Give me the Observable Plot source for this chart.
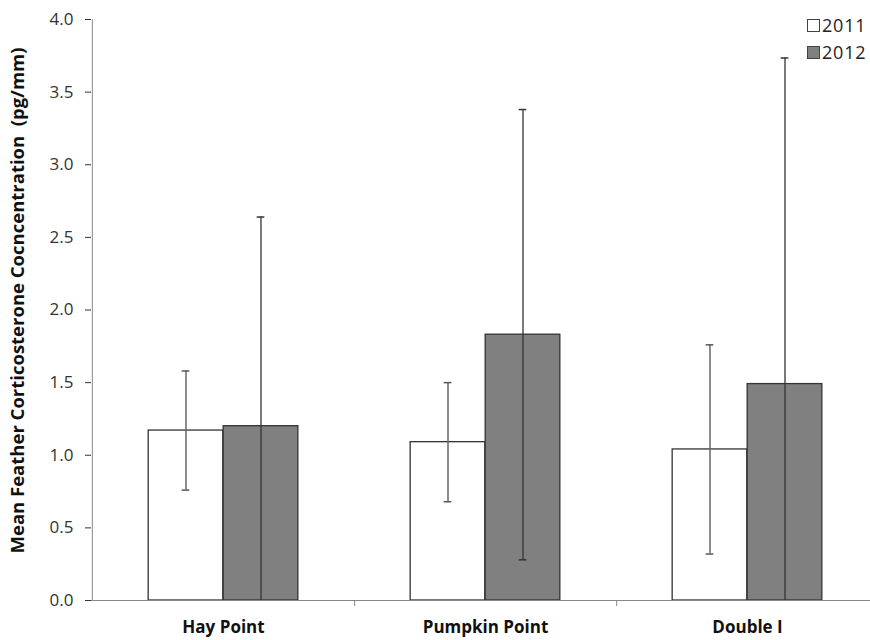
<!DOCTYPE html>
<html><head><meta charset="utf-8">
<script src="https://cdn.jsdelivr.net/npm/d3@7"></script>
<script src="https://cdn.jsdelivr.net/npm/@observablehq/plot@0.6"></script>
<style>
body{margin:0;background:#fff;}
#wrap{position:relative;width:870px;height:640px;overflow:hidden;}
.legend{position:absolute;left:807px;font:18px "Open Sans",sans-serif;letter-spacing:0.8px;color:#222;display:flex;align-items:center;line-height:1;}
.sw{width:13px;height:13px;border:1px solid #444;margin-right:2px;box-sizing:border-box;}
</style></head><body>
<div id="wrap"></div>
<script>
const sites = ["Hay Point", "Pumpkin Point", "Double I"];
const years = ["2011", "2012"];
const mean2011 = [1.17, 1.09, 1.04];
const err2011 = [0.41, 0.41, 0.72];
const mean2012 = [1.20, 1.83, 1.49];
const err2012 = [1.44, 1.55, 2.245];
const yTicks = [0, 0.5, 1, 1.5, 2, 2.5, 3, 3.5, 4];
const yTitle = "Mean Feather Corticosterone Cocncentration  (pg/mm)";

const X0 = 91, X1 = 878, BW = (X1 - X0) / sites.length, BAR = 75, HALF = BAR / 2, CAP = 4;
const mk = (m, e) => sites.map((s, i) => ({site: s, mean: m[i], lo: Math.max(0, m[i] - e[i]), hi: m[i] + e[i], low: m[i] - e[i]}));
const r2011 = mk(mean2011, err2011);
const r2012 = mk(mean2012, err2012);

const chart = Plot.plot({
  width: 870, height: 640,
  marginLeft: 91, marginTop: 19, marginBottom: 40, marginRight: 0,
  style: {fontFamily: "'Open Sans', sans-serif", fontSize: "17px", color: "#333", background: "#fff"},
  x: {domain: sites, range: [X0, X1], padding: 0, axis: null},
  y: {domain: [0, 4], ticks: yTicks, tickFormat: d3.format(".1f"), tickSize: 6, tickPadding: 12, label: null},
  marks: [
    Plot.barY(r2011, {x: "site", y: "mean", fill: "#fff", stroke: "#333", strokeWidth: 1.3, insetLeft: BW / 2 - BAR, insetRight: BW / 2}),
    Plot.barY(r2012, {x: "site", y: "mean", fill: "#808080", stroke: "#333", strokeWidth: 1.3, insetLeft: BW / 2, insetRight: BW / 2 - BAR}),
    Plot.ruleX(r2011, {x: "site", y1: "lo", y2: "hi", dx: -HALF, stroke: "#666", strokeWidth: 1.5}),
    Plot.ruleX(r2012, {x: "site", y1: "lo", y2: "hi", dx: HALF, stroke: "#333", strokeWidth: 1.3}),
    Plot.tickY(r2011, {x: "site", y: "hi", dx: -HALF, insetLeft: BW / 2 - CAP, insetRight: BW / 2 - CAP, stroke: "#555", strokeWidth: 1.5}),
    Plot.tickY(r2011.filter(d => d.low > 0), {x: "site", y: "lo", dx: -HALF, insetLeft: BW / 2 - CAP, insetRight: BW / 2 - CAP, stroke: "#555", strokeWidth: 1.5}),
    Plot.tickY(r2012, {x: "site", y: "hi", dx: HALF, insetLeft: BW / 2 - CAP, insetRight: BW / 2 - CAP, stroke: "#333", strokeWidth: 1.5}),
    Plot.tickY(r2012.filter(d => d.low > 0), {x: "site", y: "lo", dx: HALF, insetLeft: BW / 2 - CAP, insetRight: BW / 2 - CAP, stroke: "#333", strokeWidth: 1.5}),
    Plot.ruleX([sites[0]], {x: d => d, dx: -BW / 2, stroke: "#888", strokeWidth: 1}),
    Plot.ruleY([0], {stroke: "#888", strokeWidth: 1.2}),
    Plot.ruleX(sites, {x: d => d, dx: BW / 2, y1: 0, y2: 0, insetBottom: -6, stroke: "#888"}),
    Plot.text(sites, {x: d => d, y: 0, dy: 27, text: d => d, fontWeight: "bold", fontSize: 17, fill: "#111"}),
    Plot.text([yTitle], {frameAnchor: "left", dx: -73, dy: -9.5, rotate: -90, text: d => d, textAnchor: "middle", lineAnchor: "middle", fontWeight: "bold", fontSize: 18.5, fill: "#111"})
  ]
});
const wrap = document.getElementById("wrap");
wrap.appendChild(chart);
years.forEach((yr, i) => {
  const d = document.createElement("div");
  d.className = "legend";
  d.style.top = (16 + i * 27) + "px";
  d.innerHTML = `<span class="sw" style="background:${i ? "#808080" : "#fff"}"></span>${yr}`;
  wrap.appendChild(d);
});
</script>
</body></html>
